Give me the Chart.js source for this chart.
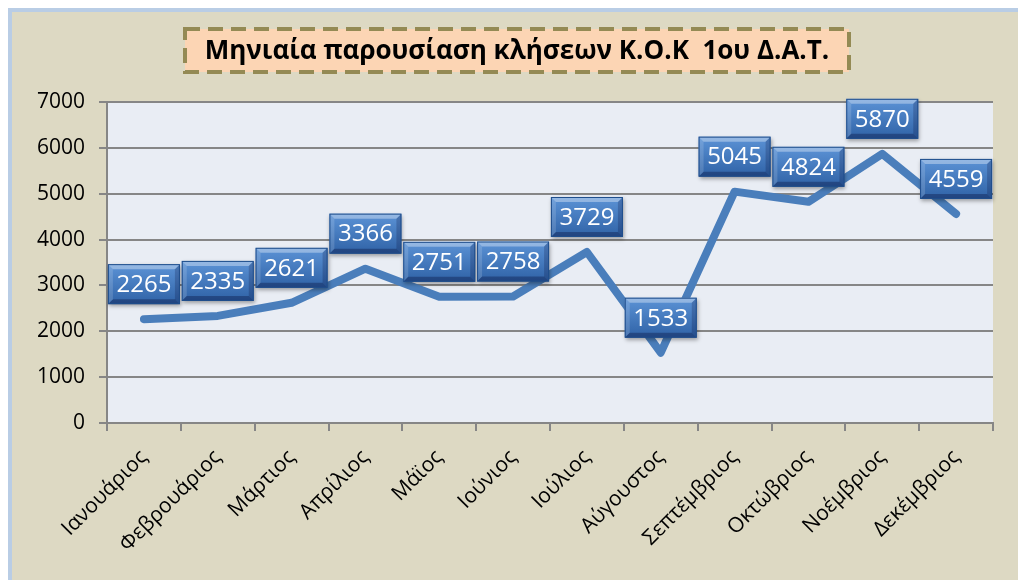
<!DOCTYPE html>
<html>
<head>
<meta charset="utf-8">
<script src="https://cdn.jsdelivr.net/npm/chart.js@4"></script>
<style>
  html, body { margin: 0; padding: 0; background: #fff; }
  #wrap { width: 1018px; height: 580px; }
</style>
</head>
<body>
<div id="wrap"><canvas id="calls-chart" width="1018" height="580"></canvas></div>
<script>
// Monthly calls (Greek month names)
const months = ["Ιανουάριος", "Φεβρουάριος", "Μάρτιος", "Απρίλιος", "Μάϊος", "Ιούνιος",
  "Ιούλιος", "Αύγουστος", "Σεπτέμβριος", "Οκτώβριος", "Νοέμβριος", "Δεκέμβριος"];
const calls = [2265, 2335, 2621, 3366, 2751, 2758, 3729, 1533, 5045, 4824, 5870, 4559];
const titleText = "Μηνιαία παρουσίαση κλήσεων Κ.Ο.Κ  1ου Δ.Α.Τ.";

const FONT = "'Open Sans', 'DejaVu Sans', sans-serif";

// frame, beige background, plot area fill
const backgroundPlugin = {
  id: "background",
  beforeDraw(chart) {
    const ctx = chart.ctx;
    const a = chart.chartArea;
    ctx.save();
    ctx.fillStyle = "#ffffff";
    ctx.fillRect(0, 0, chart.width, chart.height);
    ctx.fillStyle = "#B9CDE5";
    ctx.fillRect(8, 8, chart.width - 8, chart.height - 8);
    ctx.fillStyle = "#DDD9C3";
    ctx.fillRect(12, 12, chart.width - 12, chart.height - 12);
    ctx.fillStyle = "#E9EDF4";
    ctx.fillRect(a.left, a.top, a.right - a.left, a.bottom - a.top);
    ctx.restore();
  },
  afterDraw(chart) {
    // title box
    const ctx = chart.ctx;
    ctx.save();
    const x = 185, y = 29, w = 664, h = 43;
    ctx.fillStyle = "#FCD5B4";
    ctx.fillRect(x, y, w, h);
    ctx.strokeStyle = "#948A54";
    ctx.lineWidth = 4;
    ctx.setLineDash([15, 8]);
    ctx.strokeRect(x, y, w, h);
    ctx.setLineDash([]);
    ctx.fillStyle = "#000";
    ctx.font = "bold 26px " + FONT;
    ctx.textAlign = "center";
    ctx.textBaseline = "middle";
    ctx.fillText(titleText, x + w / 2, y + h / 2 + 1);
    ctx.restore();
  }
};

// bevelled blue value boxes above each point
const valueBoxPlugin = {
  id: "valueBoxes",
  afterDatasetsDraw(chart) {
    const ctx = chart.ctx;
    const meta = chart.getDatasetMeta(0);
    const bw = 72, bh = 40;
    ctx.save();
    meta.data.forEach((pt, i) => {
      const cx = pt.x, cy = pt.y - 35;
      const x = cx - bw / 2, y = cy - bh / 2;
      // shadow
      ctx.shadowColor = "rgba(0,0,0,0.35)";
      ctx.shadowBlur = 4;
      ctx.shadowOffsetX = 1;
      ctx.shadowOffsetY = 2;
      const g = ctx.createLinearGradient(0, y, 0, y + bh);
      g.addColorStop(0, "#5C93D6");
      g.addColorStop(1, "#2F62A6");
      ctx.fillStyle = g;
      ctx.fillRect(x, y, bw, bh);
      ctx.shadowColor = "transparent";
      // bevel edges
      const b = 5;
      ctx.fillStyle = "rgba(255,255,255,0.35)";
      ctx.beginPath();
      ctx.moveTo(x, y); ctx.lineTo(x + bw, y); ctx.lineTo(x + bw - b, y + b); ctx.lineTo(x + b, y + b);
      ctx.closePath(); ctx.fill();
      ctx.fillStyle = "rgba(255,255,255,0.15)";
      ctx.beginPath();
      ctx.moveTo(x, y); ctx.lineTo(x + b, y + b); ctx.lineTo(x + b, y + bh - b); ctx.lineTo(x, y + bh);
      ctx.closePath(); ctx.fill();
      ctx.fillStyle = "rgba(0,0,40,0.3)";
      ctx.beginPath();
      ctx.moveTo(x, y + bh); ctx.lineTo(x + b, y + bh - b); ctx.lineTo(x + bw - b, y + bh - b); ctx.lineTo(x + bw, y + bh);
      ctx.closePath(); ctx.fill();
      ctx.fillStyle = "rgba(0,0,40,0.2)";
      ctx.beginPath();
      ctx.moveTo(x + bw, y); ctx.lineTo(x + bw, y + bh); ctx.lineTo(x + bw - b, y + bh - b); ctx.lineTo(x + bw - b, y + b);
      ctx.closePath(); ctx.fill();
      ctx.strokeStyle = "#1F4E8C";
      ctx.lineWidth = 1;
      ctx.strokeRect(x + 0.5, y + 0.5, bw - 1, bh - 1);
      // value
      ctx.fillStyle = "#fff";
      ctx.font = "24px " + FONT;
      ctx.textAlign = "center";
      ctx.textBaseline = "middle";
      ctx.fillText(String(calls[i]), cx, cy + 1);
    });
    ctx.restore();
  }
};

const ctx = document.getElementById("calls-chart").getContext("2d");
new Chart(ctx, {
  type: "line",
  data: {
    labels: months,
    datasets: [{
      data: calls,
      borderColor: "#4A7EBB",
      borderWidth: 8,
      borderCapStyle: "round",
      borderJoinStyle: "round",
      pointRadius: 0,
      tension: 0,
      fill: false
    }]
  },
  options: {
    responsive: false,
    animation: false,
    layout: { padding: { left: 12, right: 25, top: 102, bottom: 0 } },
    plugins: {
      legend: { display: false },
      tooltip: { enabled: false }
    },
    scales: {
      x: {
        offset: true,
        afterFit: (scale) => { scale.height = 157; },
        grid: {
          offset: true,
          drawOnChartArea: false,
          drawTicks: true,
          tickLength: 8,
          color: "#868686",
          lineWidth: 2
        },
        border: { color: "#868686", width: 2 },
        ticks: {
          minRotation: 45,
          maxRotation: 45,
          color: "#000",
          padding: 14,
          font: { family: FONT, size: 21 }
        }
      },
      y: {
        min: 0,
        max: 7000,
        afterFit: (scale) => { scale.width = 95; },
        grid: {
          color: "#868686",
          lineWidth: 2,
          tickLength: 8
        },
        border: { color: "#868686", width: 2 },
        ticks: {
          stepSize: 1000,
          color: "#000",
          padding: 14,
          font: { family: FONT, size: 21 },
          callback: (v) => String(v)
        }
      }
    }
  },
  plugins: [backgroundPlugin, valueBoxPlugin]
});
</script>
</body>
</html>
